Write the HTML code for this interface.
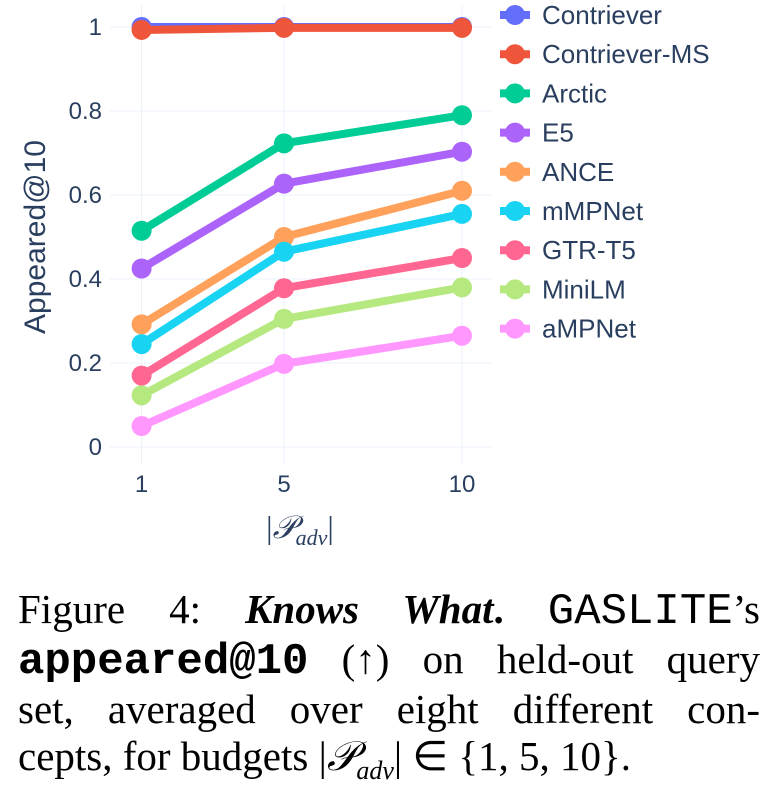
<!DOCTYPE html>
<html><head><meta charset="utf-8"><style>
body{margin:0;background:#fff;width:777px;height:812px;overflow:hidden;font-family:"Liberation Sans",sans-serif}
#cap{position:absolute;left:18px;top:586px;width:742px;font-family:"Liberation Serif",serif;font-size:41px;line-height:47px;color:#000}
#cap div{text-align:justify;text-align-last:justify;white-space:nowrap}
#cap div.last{text-align-last:left}
.mono{font-family:"Liberation Mono",monospace;font-size:44px}
</style></head><body>
<svg id="chart" width="777" height="570" style="position:absolute;left:0;top:0"></svg>
<div id="cap">
<div>Figure 4: <b><i>Knows What</i>.</b> <span class="mono">GASLITE</span>’s</div>
<div><b class="mono">appeared@10</b> (↑) on held-out query</div>
<div>set, averaged over eight different con-</div>
<div class="last">cepts, for budgets |<i>𝒫<sub style="font-size:26px">adv</sub></i>| ∈ {1, 5, 10}.</div>
</div>
<script>
const xs=[1,5,10];
const names=["Contriever","Contriever-MS","Arctic","E5","ANCE","mMPNet","GTR-T5","MiniLM","aMPNet"];
const colors=["#636efa","#EF553B","#00cc96","#ab63fa","#FFA15A","#19d3f3","#FF6692","#B6E880","#FF97FF"];
const s0=[1,1,1];
const s1=[0.993,0.998,0.998];
const s2=[0.515,0.723,0.79];
const s3=[0.425,0.627,0.703];
const s4=[0.292,0.5,0.61];
const s5=[0.245,0.465,0.555];
const s6=[0.17,0.378,0.45];
const s7=[0.123,0.305,0.38];
const s8=[0.05,0.198,0.265];
const series=[s0,s1,s2,s3,s4,s5,s6,s7,s8];
const yticks=[0,0.2,0.4,0.6,0.8,1];
const ytickLabels=["0","0.2","0.4","0.6","0.8","1"];
const X=v=>106+35.6*v, Y=v=>447-420*v;
const svg=document.getElementById('chart');const NS="http://www.w3.org/2000/svg";
function mk(t,a,p){const e=document.createElementNS(NS,t);for(const k in a)e.setAttribute(k,a[k]);(p||svg).appendChild(e);return e;}
const L=110,R=492;
yticks.forEach((t,i)=>{
 const g=mk('line',{x1:L,x2:R,y1:Y(t),y2:Y(t),stroke:'#ebf0f8','stroke-width':1});
 
 
 const tx=mk('text',{x:102,y:Y(t)+8,'text-anchor':'end','font-size':24,fill:'#2a3f5f'});tx.textContent=ytickLabels[i];
 
 
});
xs.forEach(v=>{
 const g=mk('line',{x1:X(v),x2:X(v),y1:5,y2:465,stroke:'#ebf0f8','stroke-width':1});
 
 
 const tx=mk('text',{x:X(v),y:492,'text-anchor':'middle','font-size':24,fill:'#2a3f5f'});tx.textContent=v;
 
 
});
const yt=mk('text',{x:45,y:237,'text-anchor':'middle','font-size':30,fill:'#2a3f5f',transform:'rotate(-90 45 237)'});yt.textContent='Appeared@10';


const xt=mk('text',{x:300,y:538,'text-anchor':'middle','font-size':32,fill:'#2a3f5f','font-family':'Liberation Serif, serif'});xt.innerHTML='|<tspan font-style="italic">𝒫</tspan><tspan font-size="22" dy="7" font-style="italic">adv</tspan><tspan dy="-7">|</tspan>';


series.forEach((s,i)=>{
 const pl=mk('polyline',{points:s.map((v,j)=>X(xs[j])+','+Y(v)).join(' '),fill:'none',stroke:colors[i],'stroke-width':8,'stroke-linejoin':'round'});
 
 
 s.forEach((v,j)=>{const c=mk('circle',{cx:X(xs[j]),cy:Y(v),r:10,fill:colors[i]});
  
  });
});
names.forEach((n,i)=>{
 const y=15+39.2*i;
 const g=mk('g',{});
 
 
 mk('line',{x1:500,x2:530,y1:y,y2:y,stroke:colors[i],'stroke-width':8},g);
 mk('circle',{cx:515,cy:y,r:10,fill:colors[i]},g);
 const t=mk('text',{x:542,y:y+9,'font-size':26,fill:'#2a3f5f'},g);t.textContent=n;
});
</script>
</body></html>
